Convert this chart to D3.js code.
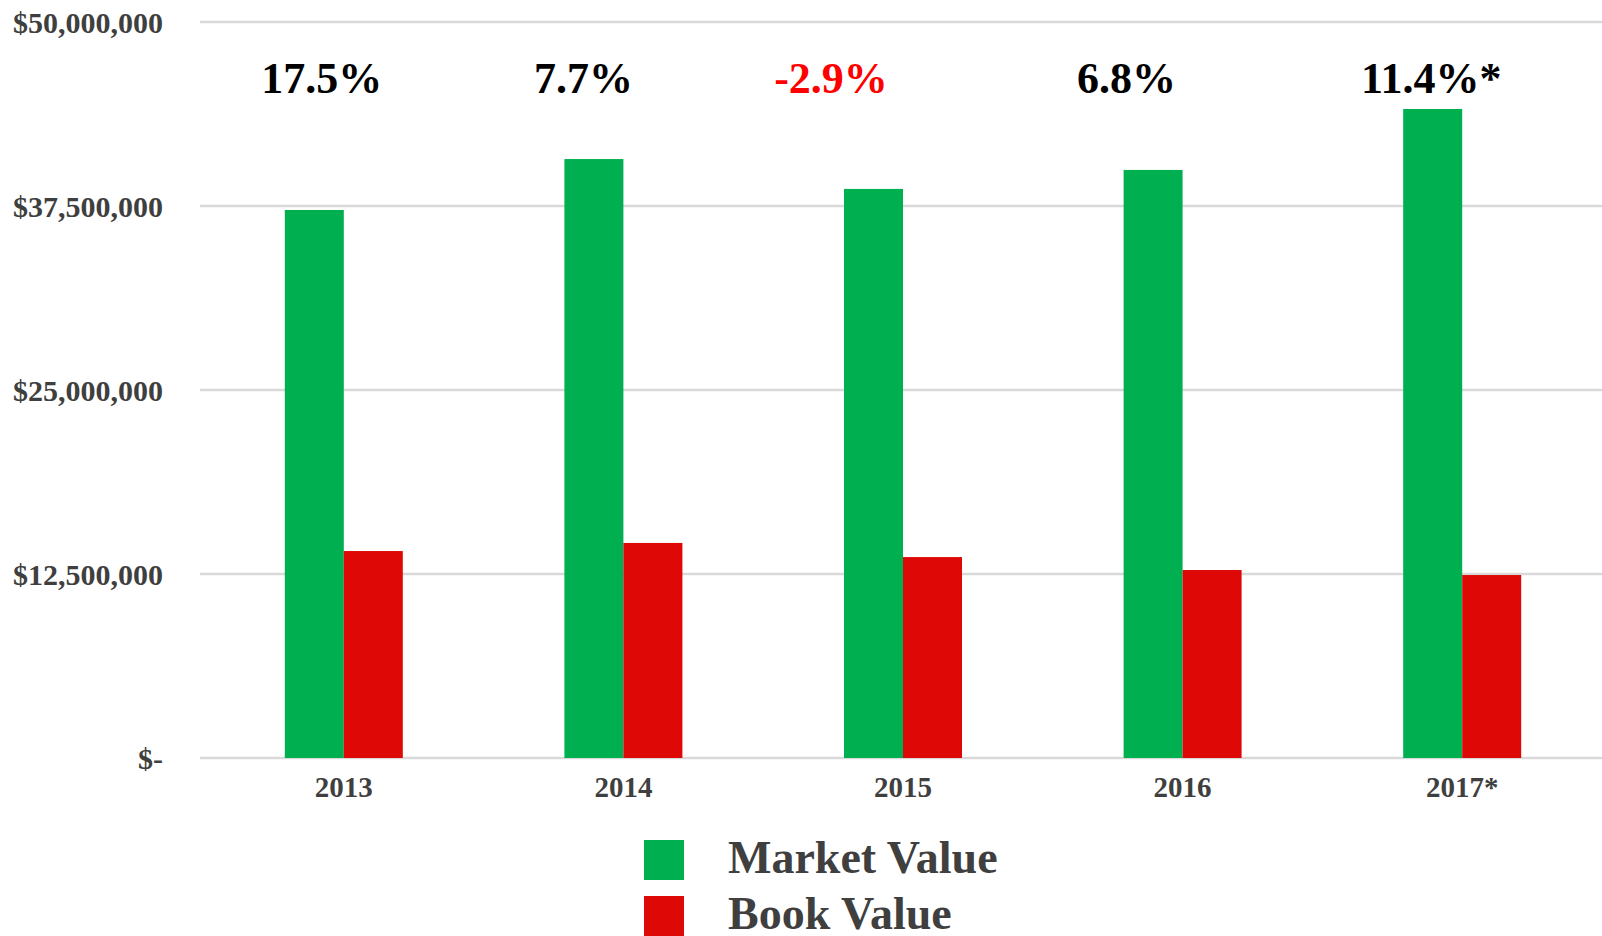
<!DOCTYPE html>
<html>
<head>
<meta charset="utf-8">
<script src="https://cdn.jsdelivr.net/npm/d3@7"></script>
<style>
  body { margin: 0; background: #fff; }
  svg text { font-family: "Liberation Serif", "Times New Roman", serif; font-weight: bold; }
</style>
</head>
<body>
<svg id="chart" width="1602" height="936"></svg>
<script>
// chart data
var years = ["2013", "2014", "2015", "2016", "2017*"];
var marketValue = [37230000, 40690000, 38660000, 39950000, 44090000];
var bookValue = [14060000, 14610000, 13650000, 12770000, 12430000];
var growthLabels = ["17.5%", "7.7%", "-2.9%", "6.8%", "11.4%*"];
var yTicks = [0, 12500000, 25000000, 37500000, 50000000];
var seriesNames = ["Market Value", "Book Value"];

// layout tweaks for the growth labels (they sit a bit left of each group)
var labelNudge = [-22, -40, -72, -56, -31];

var green = "#00b050", red = "#de0806", textGrey = "#3f3f3f";

var svg = d3.select("#chart");

var x = d3.scaleBand()
  .domain(years)
  .range([204, 1602])
  .paddingInner(0.578)
  .paddingOuter(0.289);

var xSeries = d3.scaleBand()
  .domain(seriesNames)
  .range([0, x.bandwidth()]);

var y = d3.scaleLinear()
  .domain([0, 50000000])
  .range([758, 22]);

// y labels in accounting style
function fmtMoney(d) {
  return d === 0 ? "$-" : "$" + d3.format(",")(d);
}

// gridlines
svg.append("g")
  .selectAll("line")
  .data(yTicks)
  .enter()
  .append("line")
  .attr("x1", 200)
  .attr("x2", 1602)
  .attr("y1", function (d) { return y(d); })
  .attr("y2", function (d) { return y(d); })
  .attr("stroke", "#d9d9d9")
  .attr("stroke-width", 2.5);

// y axis labels
var yAxis = d3.axisLeft(y).tickValues(yTicks).tickFormat(fmtMoney).tickSize(0).tickPadding(0);
var gy = svg.append("g").attr("transform", "translate(163,0)").call(yAxis);
gy.select(".domain").remove();
gy.selectAll("text")
  .attr("fill", textGrey)
  .style("font-size", "30px")
  .attr("dy", "0.35em");

// bars
var groups = svg.append("g")
  .selectAll("g")
  .data(years)
  .enter()
  .append("g")
  .attr("transform", function (d) { return "translate(" + x(d) + ",0)"; });

groups.append("rect")
  .attr("x", xSeries("Market Value"))
  .attr("width", xSeries.bandwidth())
  .attr("y", function (d, i) { return y(marketValue[i]); })
  .attr("height", function (d, i) { return y(0) - y(marketValue[i]); })
  .attr("fill", green);

groups.append("rect")
  .attr("x", xSeries("Book Value"))
  .attr("width", xSeries.bandwidth())
  .attr("y", function (d, i) { return y(bookValue[i]); })
  .attr("height", function (d, i) { return y(0) - y(bookValue[i]); })
  .attr("fill", red);

// x axis labels
var xAxis = d3.axisBottom(x).tickSize(0).tickPadding(0);
var gx = svg.append("g").attr("transform", "translate(0,797)").call(xAxis);
gx.select(".domain").remove();
gx.selectAll("text")
  .attr("fill", textGrey)
  .attr("dy", 0)
  .attr("y", 0)
  .style("font-size", "29px");

// growth labels above the bars
svg.append("g")
  .selectAll("text")
  .data(growthLabels)
  .enter()
  .append("text")
  .attr("x", function (d, i) { return x(years[i]) + x.bandwidth() / 2 + labelNudge[i]; })
  .attr("y", 93)
  .attr("text-anchor", "middle")
  .style("font-size", "44px")
  .attr("fill", function (d) { return d.charAt(0) === "-" ? "#ff0000" : "#000"; })
  .text(function (d) { return d; });

// legend
var legendColors = [green, red];
var legend = svg.append("g")
  .selectAll("g")
  .data(seriesNames)
  .enter()
  .append("g")
  .attr("transform", function (d, i) { return "translate(644," + (840 + i * 56) + ")"; });

legend.append("rect")
  .attr("width", 40)
  .attr("height", 40)
  .attr("fill", function (d, i) { return legendColors[i]; });

legend.append("text")
  .attr("x", 84)
  .attr("y", 33)
  .attr("fill", textGrey)
  .style("font-size", "46px")
  .text(function (d) { return d; });
</script>
</body>
</html>
